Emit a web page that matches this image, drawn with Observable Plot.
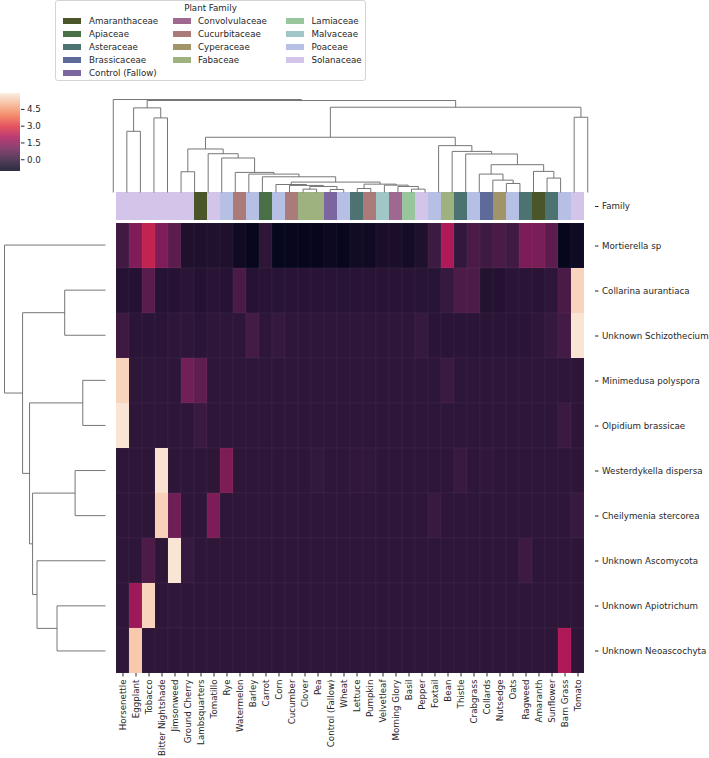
<!DOCTYPE html>
<html>
<head>
<meta charset="utf-8">
<script src="https://cdn.jsdelivr.net/npm/d3@7"></script>
<script src="https://cdn.jsdelivr.net/npm/@observablehq/plot@0.6"></script>
<style>
  body { margin: 0; background: #fff; font-family: "DejaVu Sans", sans-serif; }
  #wrap { position: relative; width: 709px; height: 758px; overflow: hidden; background: #fff; }
  #wrap svg { position: absolute; left: 0; top: 0; }
  #legend { position: absolute; left: 55px; top: 0px; width: 311px; height: 81px; border: 1px solid #d4d4d4; border-radius: 3px; box-sizing: border-box; font-size: 8.7px; color: #262626; background: rgba(255,255,255,0.85); }
  #legend .title { position: absolute; left: 0; width: 100%; top: 1px; text-align: center; line-height: 12px; }
  #legend .patch { position: absolute; width: 18px; height: 6px; }
  #legend .lab { position: absolute; line-height: 12px; white-space: nowrap; }
</style>
</head>
<body>
<div id="wrap"><div id="legend"></div></div>
<script>
// ---------------- data ----------------
const columns = ["Horsenettle","Eggplant","Tobacco","Bitter Nightshade","Jimsonweed","Ground Cherry","Lambsquarters","Tomatillo","Rye","Watermelon","Barley","Carrot","Corn","Cucumber","Clover","Pea","Control (Fallow)","Wheat","Lettuce","Pumpkin","Velvetleaf","Morning Glory","Basil","Pepper","Foxtail","Bean","Thistle","Crabgrass","Collards","Nutsedge","Oats","Ragweed","Amaranth","Sunflower","Barn Grass","Tomato"];
const columnFamilies = ["Solanaceae","Solanaceae","Solanaceae","Solanaceae","Solanaceae","Solanaceae","Amaranthaceae","Solanaceae","Poaceae","Cucurbitaceae","Poaceae","Apiaceae","Poaceae","Cucurbitaceae","Fabaceae","Fabaceae","Control (Fallow)","Poaceae","Asteraceae","Cucurbitaceae","Malvaceae","Convolvulaceae","Lamiaceae","Solanaceae","Poaceae","Fabaceae","Asteraceae","Poaceae","Brassicaceae","Cyperaceae","Poaceae","Asteraceae","Amaranthaceae","Asteraceae","Poaceae","Solanaceae"];
const familyNames = ["Amaranthaceae","Apiaceae","Asteraceae","Brassicaceae","Control (Fallow)","Convolvulaceae","Cucurbitaceae","Cyperaceae","Fabaceae","Lamiaceae","Malvaceae","Poaceae","Solanaceae"];
const familyColors = ["#4a5629","#4a7048","#4c7272","#5e6a98","#7c66a0","#9e6890","#aa7b78","#a09468","#9db27e","#98c59c","#a0c6c8","#b5c0e4","#d3c5ea"];
const rows = ["Mortierella sp","Collarina aurantiaca","Unknown Schizothecium","Minimedusa polyspora","Olpidium brassicae","Westerdykella dispersa","Cheilymenia stercorea","Unknown Ascomycota","Unknown Apiotrichum","Unknown Neoascochyta"];

const mortierella = [0.15,1.2,2.35,1.2,0.6,-0.5,-0.48,-0.45,-0.5,-0.78,-0.95,-0.22,
  -0.97,-0.97,-0.98,-0.98,-0.85,-0.95,-0.76,-0.78,-0.6,-0.58,-0.7,-0.5,
  0.08,2.0,-0.12,0.3,0.12,0.28,0.15,1.15,1.1,0.6,-1.0,-0.78];
const collarina = [-0.35,-0.38,0.55,-0.35,-0.35,-0.25,-0.38,-0.3,-0.35,0.3,-0.35,-0.3,
  -0.32,-0.3,-0.3,-0.3,-0.3,-0.32,-0.3,-0.28,-0.3,-0.3,-0.3,-0.32,
  -0.32,-0.05,0.35,0.35,-0.4,-0.38,-0.25,-0.25,-0.28,-0.2,0.3,5.5];
const schizothecium = [0.1,-0.25,-0.25,-0.25,-0.22,-0.22,-0.25,-0.22,-0.22,-0.2,0.2,-0.22,
  -0.05,-0.2,-0.2,-0.2,-0.2,-0.2,-0.2,-0.2,-0.2,-0.2,-0.2,-0.05,
  -0.25,-0.25,-0.25,-0.25,-0.25,-0.25,-0.25,-0.25,-0.2,-0.05,0.2,5.8];
const minimedusa = [5.5,-0.22,-0.22,-0.22,-0.22,0.95,0.65,-0.22,-0.22,-0.22,-0.22,-0.22,
  -0.22,-0.22,-0.22,-0.22,-0.22,-0.22,-0.22,-0.22,-0.22,-0.22,-0.22,-0.22,
  -0.22,0.05,-0.22,-0.22,-0.22,-0.22,-0.22,-0.22,-0.22,-0.22,-0.22,-0.22];
const olpidium = [5.8,-0.2,-0.2,-0.2,-0.2,-0.2,0.05,-0.2,-0.2,-0.2,-0.2,-0.2,
  -0.2,-0.2,-0.2,-0.2,-0.2,-0.2,-0.2,-0.2,-0.2,-0.2,-0.2,-0.2,
  -0.2,-0.2,-0.2,-0.2,-0.2,-0.2,-0.2,-0.2,-0.2,-0.2,0.05,-0.2];
const westerdykella = [-0.2,-0.2,-0.2,5.75,-0.2,-0.2,-0.2,-0.2,1.15,-0.2,-0.2,-0.2,
  -0.2,-0.2,-0.2,-0.12,-0.2,-0.2,-0.15,-0.15,-0.2,-0.2,-0.2,-0.2,
  -0.2,-0.2,0.0,-0.2,-0.15,-0.2,-0.2,-0.2,-0.2,-0.2,-0.2,-0.2];
const cheilymenia = [-0.22,-0.22,-0.22,5.45,0.9,-0.22,-0.22,1.15,-0.22,-0.22,-0.22,-0.22,
  -0.22,-0.22,-0.22,-0.22,-0.22,-0.22,-0.22,-0.22,-0.22,-0.22,-0.22,-0.22,
  0.0,-0.22,-0.22,-0.22,-0.22,-0.22,-0.22,-0.22,-0.22,-0.22,-0.22,0.0];
const ascomycota = [-0.2,-0.2,0.35,-0.2,5.8,-0.05,-0.2,-0.2,-0.2,-0.2,-0.2,-0.2,
  -0.2,-0.2,-0.2,-0.2,-0.2,-0.2,-0.2,-0.2,-0.2,-0.2,-0.2,-0.2,
  -0.2,-0.2,-0.2,-0.2,-0.2,-0.2,-0.2,0.1,-0.2,-0.2,-0.2,-0.2];
const apiotrichum = [-0.22,1.7,5.5,-0.22,-0.15,-0.22,-0.22,-0.22,-0.22,-0.22,-0.22,-0.22,
  -0.22,-0.22,-0.22,-0.22,-0.22,-0.22,-0.22,-0.22,-0.22,-0.22,-0.22,-0.22,
  -0.22,-0.22,-0.22,-0.22,-0.22,-0.22,-0.22,-0.22,-0.22,-0.22,-0.22,-0.22];
const neoascochyta = [-0.22,5.3,-0.22,-0.22,-0.22,-0.22,-0.22,-0.22,-0.22,-0.22,-0.22,-0.22,
  -0.22,-0.22,-0.22,-0.22,-0.22,-0.22,-0.22,-0.22,-0.22,-0.22,-0.22,-0.22,
  -0.22,-0.22,-0.22,-0.22,-0.22,-0.22,-0.22,-0.22,-0.22,-0.22,2.0,-0.22];
const rowValues = [mortierella, collarina, schizothecium, minimedusa, olpidium, westerdykella, cheilymenia, ascomycota, apiotrichum, neoascochyta];

// column dendrogram merges: [id, left, right, height] (leaves = column index)
const colMerges = [
  ["c1",14,15,0.36],["c2",16,17,0.32],["c3","c1","c2",0.65],["c4",13,"c3",0.76],["c5",12,"c4",0.86],
  ["c6",18,19,0.43],["c7",22,23,0.36],["c8",21,"c7",0.65],["c9",20,"c8",0.79],["c10","c6","c9",0.90],
  ["c11","c5","c10",1.12],["c12",11,"c11",1.69],["c13",10,"c12",1.98],["c14",9,"c13",2.16],
  ["c15",8,"c14",3.71],["c16",7,"c15",4.17],["c17",5,6,2.23],["c18","c17","c16",4.68],
  ["c19",29,30,0.97],["c20",28,"c19",1.33],["c21",27,"c20",1.98],["c22",32,33,1.55],["c23",31,"c22",2.27],
  ["c24","c21","c23",2.99],["c25",26,"c24",4.14],["c26",25,"c25",4.42],["c27",24,"c26",5.04],
  ["c28","c18","c27",5.94],["c29",34,35,8.09],["c30","c28","c29",9.17],
  ["c31",1,2,6.58],["c32",3,4,8.02],["c33","c31","c32",9.10],["c34","c33","c30",9.89],["c35",0,"c34",10.0]
];
// row dendrogram merges (leaves = row index)
const rowMerges = [
  ["r1",1,2,4.04],["r2",3,4,2.25],["r3",5,6,3.01],["r4",8,9,4.80],["r5",7,"r4",6.78],
  ["r6","r3","r5",7.22],["r7","r2","r6",7.52],["r8","r1","r7",8.21],["r9",0,"r8",10.0]
];
const colorbarTicks = [0, 1.5, 3.0, 4.5];
const vmin = -1.05, vmax = 5.92;

// ---------------- styles ----------------
const rocketT = [0, 0.143, 0.286, 0.429, 0.571, 0.714, 0.857, 1];
const rocketColors = ["#03051a","#35193e","#701f57","#ad1759","#e13342","#f37651","#f6b48f","#faebdd"];
const colorScale = {type: "linear", domain: rocketT.map(t => vmin + t * (vmax - vmin)), range: rocketColors, clamp: true};
const W = 709, H = 758;
const heatL = 106, heatR = 594, heatT = 222, heatB = 673;
const stripT = 192, stripB = 220;
const treeColor = "#666666";
const fontCSS = {background: "transparent", fontFamily: "'DejaVu Sans', sans-serif", fontSize: "8.7px", color: "#262626"};

// ---------------- helpers ----------------
function dendroSegments(merges, n) {
  const pos = new Map(), ht = new Map();
  for (let i = 0; i < n; i++) { pos.set(i, i + 0.5); ht.set(i, 0); }
  const segs = [];
  for (const [id, a, b, h] of merges) {
    const pa = pos.get(a), pb = pos.get(b), ha = ht.get(a), hb = ht.get(b);
    segs.push({p1: pa, h1: ha, p2: pa, h2: h});
    segs.push({p1: pa, h1: h, p2: pb, h2: h});
    segs.push({p1: pb, h1: h, p2: pb, h2: hb});
    pos.set(id, (pa + pb) / 2); ht.set(id, h);
  }
  return segs;
}

const wrap = document.getElementById("wrap");

// heatmap
const cells = [];
rows.forEach((r, i) => columns.forEach((c, j) => cells.push({row: r, col: c, value: rowValues[i][j]})));
wrap.appendChild(Plot.plot({
  width: W, height: H,
  marginLeft: heatL, marginRight: W - heatR, marginTop: heatT, marginBottom: H - heatB,
  style: fontCSS,
  x: {domain: columns, padding: 0, tickRotate: -90, tickSize: 3.5, tickPadding: 2.5, label: null},
  y: {domain: rows, padding: 0, axis: "right", tickSize: 3.5, tickPadding: 4, label: null},
  color: colorScale,
  marks: [
    Plot.cell(cells, {x: "col", y: "row", fill: "value", inset: 0, stroke: "#ffffff", strokeOpacity: 0.05, strokeWidth: 0.7})
  ]
}));

// family strip
const strip = columns.map((c, j) => ({col: c, key: "Family", fam: columnFamilies[j]}));
wrap.appendChild(Plot.plot({
  width: W, height: H,
  marginLeft: heatL, marginRight: W - heatR, marginTop: stripT, marginBottom: H - stripB,
  style: fontCSS,
  x: {domain: columns, padding: 0, axis: null},
  y: {domain: ["Family"], padding: 0, axis: "right", tickSize: 3.5, tickPadding: 4, label: null},
  color: {type: "ordinal", domain: familyNames, range: familyColors},
  marks: [Plot.cell(strip, {x: "col", y: "key", fill: "fam", inset: 0})]
}));

// top dendrogram
wrap.appendChild(Plot.plot({
  width: W, height: H,
  marginLeft: heatL, marginRight: W - heatR, marginTop: 99, marginBottom: H - 192,
  style: fontCSS,
  x: {domain: [0, columns.length], axis: null},
  y: {domain: [0, 10], axis: null},
  marks: [Plot.link(dendroSegments(colMerges, columns.length), {x1: "p1", y1: "h1", x2: "p2", y2: "h2", stroke: treeColor, strokeWidth: 0.9})]
}));

// left dendrogram
wrap.appendChild(Plot.plot({
  width: W, height: H,
  marginLeft: 4, marginRight: W - 105, marginTop: heatT, marginBottom: H - heatB,
  style: fontCSS,
  x: {domain: [10, 0], axis: null},
  y: {domain: [rows.length, 0], axis: null},
  marks: [Plot.link(dendroSegments(rowMerges, rows.length), {x1: "h1", y1: "p1", x2: "h2", y2: "p2", stroke: treeColor, strokeWidth: 0.9})]
}));

// colorbar
const step = 0.02;
const slices = d3.range(vmin, vmax, step).map(v => ({v, v2: Math.min(vmax, v + step * 1.5)}));
wrap.appendChild(Plot.plot({
  width: W, height: H,
  marginLeft: 0, marginRight: W - 20, marginTop: 93, marginBottom: H - 171,
  style: fontCSS,
  x: {domain: [0, 1], axis: null},
  y: {domain: [vmin, vmax], axis: "right", ticks: colorbarTicks, tickFormat: d3.format(".1f"), tickSize: 3.5, tickPadding: 3, label: null},
  color: colorScale,
  marks: [Plot.rect(slices, {x1: 0, x2: 1, y1: "v", y2: "v2", fill: "v"})]
}));

// legend
const legend = document.getElementById("legend");
const t = document.createElement("div"); t.className = "title"; t.textContent = "Plant Family"; legend.appendChild(t);
const colPatchX = [7, 116.5, 230];
const colTextX = [33, 142, 255.5];
const rowY = [20.7, 34, 46.9, 60, 72.8];
const perCol = [5, 4, 4];
let k = 0;
perCol.forEach((n, ci) => {
  for (let ri = 0; ri < n; ri++, k++) {
    const p = document.createElement("div"); p.className = "patch";
    p.style.left = colPatchX[ci] + "px"; p.style.top = (rowY[ri] - 3 - 1) + "px"; p.style.background = familyColors[k];
    legend.appendChild(p);
    const l = document.createElement("div"); l.className = "lab";
    l.style.left = colTextX[ci] + "px"; l.style.top = (rowY[ri] - 6 - 1) + "px"; l.textContent = familyNames[k];
    legend.appendChild(l);
  }
});
</script>
</body>
</html>
